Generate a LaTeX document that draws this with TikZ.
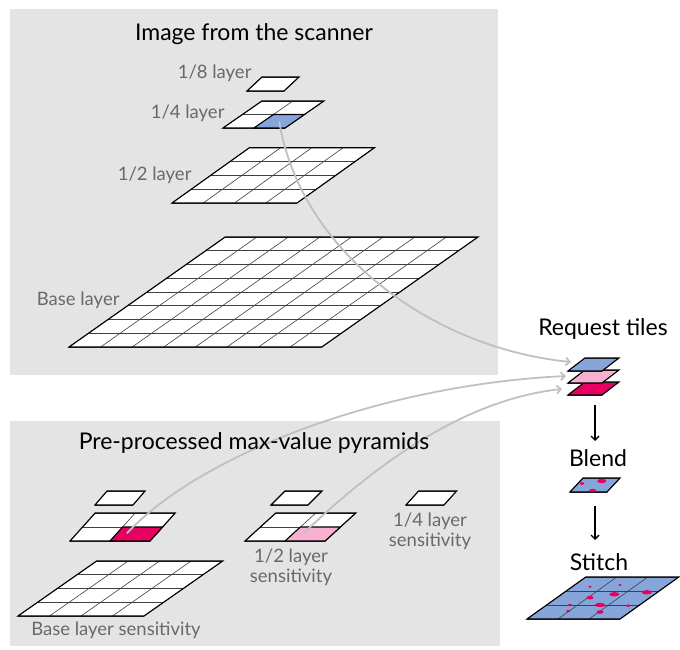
\documentclass[tikz,border=0pt]{standalone}
\usepackage{fontspec}
\setmainfont{Lato}
\usetikzlibrary{arrows.meta}

\definecolor{panelgray}{RGB}{228,228,228}
\definecolor{tileblue}{RGB}{134,166,219}
\definecolor{tilepink}{RGB}{248,176,208}
\definecolor{tilemagenta}{RGB}{232,0,96}
\definecolor{linkgray}{RGB}{192,192,192}
\definecolor{labelgray}{RGB}{105,105,105}

% one pyramid layer: fill, columns, rows (drawn in a slanted scope)
\newcommand{\slabgrid}[3]{%
  \fill[#1] (0,0) -- (#2,0) -- (#2,#3) -- (0,#3) -- cycle;
  \foreach \c in {0,...,#2} \draw[cell line] (\c,0) -- (\c,#3);
  \foreach \r in {0,...,#3} \draw[cell line] (0,\r) -- (#2,\r);
  \draw[slab edge] (0,0) -- (#2,0) -- (#2,#3) -- (0,#3) -- cycle;}

\begin{document}
\begin{tikzpicture}[x=1pt, y=-1pt,
  title/.style={font=\fontsize{23}{26}\selectfont},
  layer label/.style={font=\fontsize{18.5}{20}\selectfont, text=labelgray, align=center},
  slab edge/.style={line width=1.1pt, line join=miter},
  cell line/.style={line width=0.6pt, black!75},
  link/.style={linkgray, line width=1.8pt, -{Straight Barb[length=4pt,width=8pt]}},
  flow/.style={line width=1.4pt, -{Straight Barb[length=4pt,width=8pt]}},
  spot/.style={fill=tilemagenta}]

\useasboundingbox (0,0) rectangle (680,650);

% Panels
\fill [panelgray] (10,9) rectangle (498,375);
\fill [panelgray] (10,421) rectangle (500,646);

% Scanner pyramid
\begin{scope}[shift={(247,91)}, xslant=1.07, x=37pt, y=14pt]
  \slabgrid{white}{1}{1}
\end{scope}
\begin{scope}[shift={(223,128)}, xslant=1.44, x=31pt, y=13.5pt]
  \slabgrid{white}{2}{2}
  \filldraw [fill=tileblue, slab edge] (1,0) -- (2,0) -- (2,1) -- (1,1) -- cycle;
  \coordinate (quarter cell) at (1.5,0.5);
\end{scope}
\begin{scope}[shift={(172,203)}, xslant=1.40, x=31.25pt, y=13.8pt]
  \slabgrid{white}{4}{4}
\end{scope}
\begin{scope}[shift={(69,347)}, xslant=1.42, x=31.6pt, y=13.75pt]
  \slabgrid{white}{8}{8}
\end{scope}

% Sensitivity pyramids
\begin{scope}[shift={(95,505)}, xslant=0.86, x=38pt, y=14pt]
  \slabgrid{white}{1}{1}
\end{scope}
\begin{scope}[shift={(70,541)}, xslant=0.9, x=40pt, y=14pt]
  \slabgrid{white}{2}{2}
  \filldraw [fill=tilemagenta, slab edge] (1,0) -- (2,0) -- (2,1) -- (1,1) -- cycle;
  \coordinate (base sens cell) at (1.25,0.55);
\end{scope}
\begin{scope}[shift={(18,616)}, xslant=1.43, x=31.5pt, y=13.75pt]
  \slabgrid{white}{4}{4}
\end{scope}

\begin{scope}[shift={(271,505)}, xslant=1.0, x=37pt, y=14pt]
  \slabgrid{white}{1}{1}
\end{scope}
\begin{scope}[shift={(245,541)}, xslant=1.1, x=40pt, y=14pt]
  \slabgrid{white}{2}{2}
  \filldraw [fill=tilepink, slab edge] (1,0) -- (2,0) -- (2,1) -- (1,1) -- cycle;
  \coordinate (half sens cell) at (1.25,0.6);
\end{scope}

\begin{scope}[shift={(406,505)}, xslant=0.9, x=38pt, y=14pt]
  \slabgrid{white}{1}{1}
\end{scope}

% Request tiles
\begin{scope}[shift={(568,395)}, xslant=1.3, x=34pt, y=13pt]
  \slabgrid{tilemagenta}{1}{1}
\end{scope}
\begin{scope}[shift={(568,383)}, xslant=1.3, x=34pt, y=13pt]
  \slabgrid{tilepink}{1}{1}
\end{scope}
\begin{scope}[shift={(568,371)}, xslant=1.3, x=34pt, y=13pt]
  \slabgrid{tileblue}{1}{1}
\end{scope}
\coordinate (blue end) at (571,362);
\coordinate (pink end) at (566,376);
\coordinate (magenta end) at (562,389);
\coordinate (tiles out) at (595,405);
\coordinate (blend in) at (595,441);

% Blend
\begin{scope}[shift={(570,492)}, xslant=0.93, x=37pt, y=14pt]
  \slabgrid{tileblue}{1}{1}
\end{scope}
\fill [spot] (601.7,481) ellipse [x radius=4.5pt, y radius=2.2pt];
\fill [spot] (582,483.5) ellipse [x radius=2pt, y radius=1.4pt];
\fill [spot] (592.7,490.5) ellipse [x radius=3.5pt, y radius=1.6pt];
\coordinate (blend out) at (595,506);
\coordinate (stitch in) at (595,540);

% Stitch
\begin{scope}[shift={(527,619)}, xslant=1.4, x=31pt, y=14pt]
  \slabgrid{tileblue}{3}{3}
\end{scope}
\fill [spot] (590,586.7) ellipse [x radius=1.8pt, y radius=1.1pt];
\fill [spot] (620,585) ellipse [x radius=1.8pt, y radius=1.1pt];
\fill [spot] (614.3,594.3) ellipse [x radius=5pt, y radius=2.2pt];
\fill [spot] (646.7,592.3) ellipse [x radius=5pt, y radius=2.2pt];
\fill [spot] (590,597.7) ellipse [x radius=3.5pt, y radius=1.8pt];
\fill [spot] (570,605) ellipse [x radius=2pt, y radius=1.2pt];
\fill [spot] (600,605) ellipse [x radius=5pt, y radius=2.2pt];
\fill [spot] (628.3,605.7) ellipse [x radius=2.2pt, y radius=1.2pt];
\fill [spot] (568.3,611) ellipse [x radius=2pt, y radius=1.2pt];
\fill [spot] (600,612) ellipse [x radius=3.5pt, y radius=1.8pt];

% Links
\draw [link] (quarter cell) .. controls (300,250) and (430,348) .. (blue end);
\draw [link] (base sens cell) .. controls (200,455) and (380,385) .. (pink end);
\draw [link] (half sens cell) .. controls (370,470) and (460,400) .. (magenta end);
\draw [flow] (tiles out) -- (blend in);
\draw [flow] (blend out) -- (stitch in);

% Labels
\node (scan title) at (254,34) [title] {Image from the scanner};
\node (sens title) at (254,443) [title] {Pre-processed max-value pyramids};
\node (request) at (603,329) [title] {Request tiles};
\node (blend) at (598,458) [title] {Blend};
\node (stitch) at (599,562) [title] {Stitch};

\node (eighth) at (255,73) [layer label, anchor=east] {1/8 layer};
\node (quarter) at (228,113) [layer label, anchor=east] {1/4 layer};
\node (half) at (195,175) [layer label, anchor=east] {1/2 layer};
\node (base) at (123,300) [layer label, anchor=east] {Base layer};

\node (base sens) at (116,630) [layer label] {Base layer sensitivity};
\node (half sens) at (291,567) [layer label] {1/2 layer\\sensitivity};
\node (quarter sens) at (430,531) [layer label] {1/4 layer\\sensitivity};

\end{tikzpicture}
\end{document}
